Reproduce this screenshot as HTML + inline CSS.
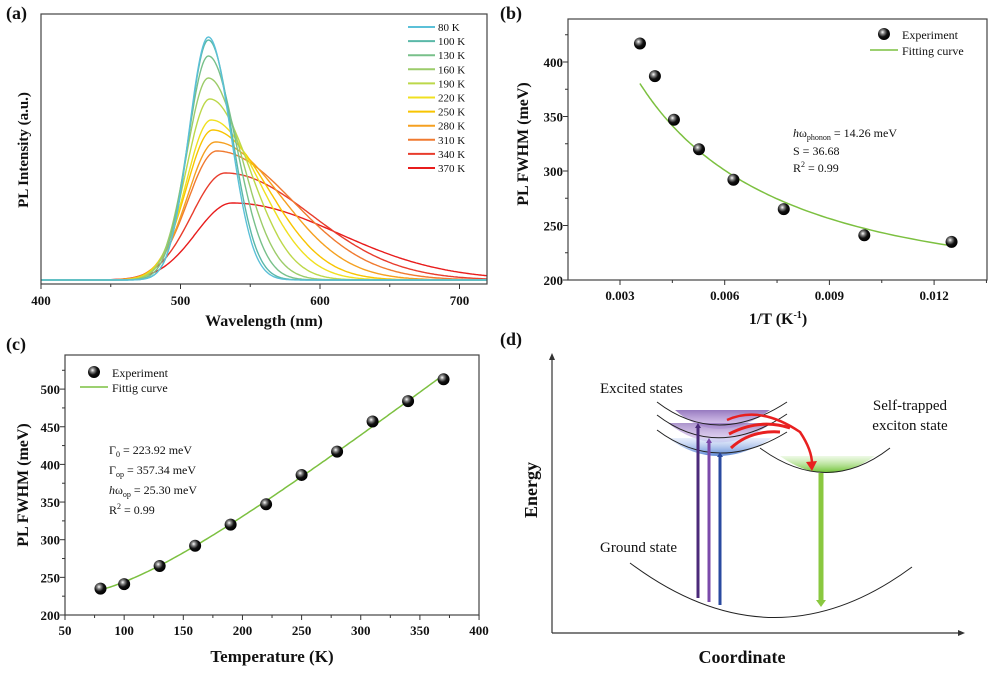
<!DOCTYPE html>
<html><head><meta charset="utf-8"><style>
html,body{margin:0;padding:0;background:#fff;}
svg{display:block;font-family:"Liberation Serif",serif;}
</style></head><body>
<svg id="s" width="1000" height="675" viewBox="0 0 1000 675" xmlns="http://www.w3.org/2000/svg">
<defs>
<radialGradient id="ball" cx="0.38" cy="0.35" r="0.65">
<stop offset="0" stop-color="#fff"/><stop offset="0.25" stop-color="#888"/><stop offset="0.6" stop-color="#111"/><stop offset="1" stop-color="#000"/></radialGradient>
<linearGradient id="purp" x1="0" y1="0" x2="0" y2="1"><stop offset="0" stop-color="#8a6ab8" stop-opacity="0.9"/><stop offset="1" stop-color="#c8a8e8" stop-opacity="0.5"/></linearGradient>
<linearGradient id="blu" x1="0" y1="0" x2="0" y2="1"><stop offset="0" stop-color="#c8d8f8" stop-opacity="0.4"/><stop offset="1" stop-color="#4a7ad0" stop-opacity="0.9"/></linearGradient>
<linearGradient id="grn" x1="0" y1="0" x2="0" y2="1"><stop offset="0" stop-color="#a8e080" stop-opacity="0.2"/><stop offset="1" stop-color="#6cc030" stop-opacity="1"/></linearGradient>
</defs>
<g id="g"></g>
</svg>
<script>
var out=[];
function P(s){out.push(s);}
function txt(x,y,t,o){o=o||{};P('<text x="'+x+'" y="'+y+'" font-size="'+(o.fs||13)+'" '+(o.b?'font-weight="bold" ':'')+'text-anchor="'+(o.a||'start')+'" '+(o.rot?'transform="rotate(-90 '+x+' '+y+')" ':'')+'fill="#111">'+t+'</text>');}
function line(x1,y1,x2,y2,c,w){P('<line x1="'+x1+'" y1="'+y1+'" x2="'+x2+'" y2="'+y2+'" stroke="'+(c||'#333')+'" stroke-width="'+(w||1)+'"/>');}
function ball(x,y){P('<circle cx="'+x+'" cy="'+y+'" r="6" fill="url(#ball)"/>');}
txt(6,19,'(a)',{fs:18,b:1});txt(500,19,'(b)',{fs:18,b:1});txt(6,350,'(c)',{fs:18,b:1});txt(500,345,'(d)',{fs:18,b:1});
// ===== (a)
(function(){
var L=41,R=487,T=14,B=284,base=280;
function X(w){return L+(w-400)*1.395;}
var C=[[520,243,14,16,'#5bc0d8'],[520,240,14,17,'#5ab8a8'],[520,224,15,20,'#78c08a'],[520,202,16,24,'#9ccc6a'],[521,181,17,29,'#bcd84a'],[522,160,18,35,'#f0e020'],[523,150,19,40,'#f8c400'],[525,138,20,47,'#f5a020'],[526,129,21,55,'#f07a30'],[532,107,24,62,'#e83c2c'],[537,77,26,76,'#e81c1c']];
var lab=['80 K','100 K','130 K','160 K','190 K','220 K','250 K','280 K','310 K','340 K','370 K'];
for(var i=C.length-1;i>=0;i--){var c=C[i],d='';
for(var w=400;w<=720;w+=1){var s=w<c[0]?c[2]:c[3];var y=base-c[1]*Math.exp(-Math.pow(w-c[0],2)/(2*s*s));d+=(w==400?'M':'L')+X(w).toFixed(1)+','+y.toFixed(1);}
P('<path d="'+d+'" fill="none" stroke="'+c[4]+'" stroke-width="1.4"/>');}
for(var i=0;i<11;i++){var y=27+i*14.1;line(408,y,435,y,C[i][4],2);txt(438,y+4,lab[i],{fs:11});}
P('<rect x="'+L+'" y="'+T+'" width="'+(R-L)+'" height="'+(B-T)+'" fill="none" stroke="#444" stroke-width="1.2"/>');
for(var w=400;w<=700;w+=50){var x=X(w);line(x,B,x,B+(w%100?3:5));if(w%100==0)txt(x,B+21,w,{fs:13,b:1,a:'middle'});}
txt(264,326,'Wavelength (nm)',{fs:16,b:1,a:'middle'});
txt(28,150,'PL Intensity (a.u.)',{fs:15,b:1,a:'middle',rot:1});
})();
// ===== (b)
(function(){
var L=568,R=987,T=19,B=280;
function X(v){return 620+(v-0.003)/0.003*104.7;}function Y(v){return 280-(v-200)*1.09;}
P('<rect x="'+L+'" y="'+T+'" width="'+(R-L)+'" height="'+(B-T)+'" fill="none" stroke="#444" stroke-width="1.2"/>');
for(var v=200;v<=425;v+=25){var y=Y(v);line(L,y,L-(v%50?3:5),y);if(v%50==0)txt(L-5,y+5,v,{fs:13,b:1,a:'end'});}
for(var k=1;k<=4;k++){var x=X(0.003*k);line(x,B,x,B+5);txt(x,B+20,(0.003*k).toFixed(3),{fs:13,b:1,a:'middle'});}
for(var k=0;k<4;k++){var x=X(0.0045+0.003*k);line(x,B,x,B+3);}
var d='';for(var T2=280;T2>=80;T2-=2){var a=82.74/T2;var ct=(Math.exp(2*a)+1)/(Math.exp(2*a)-1);var f=203.8*Math.sqrt(ct);d+=(T2==280?'M':'L')+X(1/T2).toFixed(1)+','+Y(f).toFixed(1);}
P('<path d="'+d+'" fill="none" stroke="#7cc040" stroke-width="1.5"/>');
var pts=[[280,417],[250,387],[220,347],[190,320],[160,292],[130,265],[100,241],[80,235]];
pts.forEach(function(p){ball(X(1/p[0]),Y(p[1]));});
ball(884,34);txt(902,39,'Experiment',{fs:12});line(870,50,898,50,'#7cc040',1.5);txt(902,55,'Fitting curve',{fs:12});
P('<text x="793" y="137" font-size="12" fill="#111"><tspan font-style="italic">h</tspan>ω<tspan font-size="8" dy="3">phonon</tspan><tspan dy="-3"> = 14.26 meV</tspan></text>');
txt(793,155,'S = 36.68',{fs:12});
P('<text x="793" y="172" font-size="12" fill="#111">R<tspan font-size="8" dy="-5">2</tspan><tspan dy="5"> = 0.99</tspan></text>');
P('<text x="778" y="324" font-size="16" font-weight="bold" text-anchor="middle" fill="#111">1/T (K<tspan font-size="10" dy="-6">-1</tspan><tspan dy="6">)</tspan></text>');
txt(528,144,'PL FWHM (meV)',{fs:16,b:1,a:'middle',rot:1});
})();
// ===== (c)
(function(){
var L=65,R=479,T=355,B=615;
function X(v){return 65+(v-50)*1.183;}function Y(v){return 615-(v-200)*0.753;}
P('<rect x="'+L+'" y="'+T+'" width="'+(R-L)+'" height="'+(B-T)+'" fill="none" stroke="#444" stroke-width="1.2"/>');
for(var v=200;v<=525;v+=25){var y=Y(v);line(L,y,L-(v%50?3:5),y);if(v%50==0)txt(L-5,y+5,v,{fs:13,b:1,a:'end'});}
for(var v=50;v<=400;v+=25){var x=X(v);line(x,B,x,B+(v%50?3:5));if(v%50==0)txt(x,B+20,v,{fs:13,b:1,a:'middle'});}
var d='';for(var t=80;t<=370;t+=2){var f=223.92+357.34/(Math.exp(25.3/(0.08617*t))-1);d+=(t==80?'M':'L')+X(t).toFixed(1)+','+Y(f).toFixed(1);}
P('<path d="'+d+'" fill="none" stroke="#7cc040" stroke-width="1.5"/>');
var T3=[80,100,130,160,190,220,250,280,310,340,370],V=[235,241,265,292,320,347,386,417,457,484,513];
for(var i=0;i<11;i++)ball(X(T3[i]),Y(V[i]));
ball(94,372);txt(112,377,'Experiment',{fs:12});line(80,387,108,387,'#7cc040',1.5);txt(112,392,'Fittig curve',{fs:12});
P('<text x="109" y="454" font-size="12" fill="#111">Γ<tspan font-size="8" dy="3">0</tspan><tspan dy="-3"> = 223.92 meV</tspan></text>');
P('<text x="109" y="474" font-size="12" fill="#111">Γ<tspan font-size="8" dy="3">op</tspan><tspan dy="-3"> =  357.34 meV</tspan></text>');
P('<text x="109" y="494" font-size="12" fill="#111"><tspan font-style="italic">h</tspan>ω<tspan font-size="8" dy="3">op</tspan><tspan dy="-3"> = 25.30 meV</tspan></text>');
P('<text x="109" y="514" font-size="12" fill="#111">R<tspan font-size="8" dy="-5">2</tspan><tspan dy="5"> = 0.99</tspan></text>');
txt(272,662,'Temperature (K)',{fs:17,b:1,a:'middle'});
txt(28,485,'PL FWHM (meV)',{fs:16,b:1,a:'middle',rot:1});
})();
// ===== (d)
(function(){
line(552,633,552,358,'#333',1.2);P('<path d="M549,360 L552,353 L555,360z" fill="#333"/>');
line(552,633,960,633,'#333',1.2);P('<path d="M958,630 L965,633 L958,636z" fill="#333"/>');
txt(742,663,'Coordinate',{fs:18,b:1,a:'middle'});
txt(537,490,'Energy',{fs:18,b:1,a:'middle',rot:1});
P('<path d="M675,410 Q717,448 770,410 Z" fill="url(#purp)"/>');
P('<path d="M668,423 Q717,462 772,423 Z" fill="url(#purp)" opacity="0.8"/>');
P('<path d="M668,438 Q717,474 772,438 Z" fill="url(#blu)"/>');
P('<path d="M780,456 Q827,490 875,456 Z" fill="url(#grn)"/>');
P('<path d="M657,402 Q717,448 787,402" fill="none" stroke="#222" stroke-width="1"/>');
P('<path d="M657,415 Q717,461 787,414" fill="none" stroke="#222" stroke-width="1"/>');
P('<path d="M657,430 Q717,475 787,432" fill="none" stroke="#222" stroke-width="1"/>');
P('<path d="M760,448 Q827,497 890,448" fill="none" stroke="#222" stroke-width="1"/>');
P('<path d="M630,563 Q773,670 912,567" fill="none" stroke="#222" stroke-width="1"/>');
[[698,598,423,'#4b2a7a'],[709,602,438,'#7b4aaa'],[720,605,452,'#2a4aa0']].forEach(function(a){
line(a[0],a[1],a[0],a[2]+4,a[3],3);P('<path d="M'+(a[0]-3)+','+(a[2]+5)+' L'+a[0]+','+a[2]+' L'+(a[0]+3)+','+(a[2]+5)+'z" fill="'+a[3]+'"/>');});
line(821,473,821,600,'#8ac840',5);P('<path d="M816,600 L821,607 L826,600z" fill="#8ac840"/>');
P('<path d="M727,420 Q760,405 800,432 Q812,450 812,464" fill="none" stroke="#e82020" stroke-width="2.5"/>');
P('<path d="M729,434 Q760,418 790,428" fill="none" stroke="#e82020" stroke-width="3"/>');
P('<path d="M731,448 Q750,430 780,432" fill="none" stroke="#e82020" stroke-width="3"/>');
P('<path d="M806,462 L812,471 L817,461z" fill="#e82020"/>');
txt(600,393,'Excited states',{fs:15});
txt(600,552,'Ground state',{fs:15});
txt(910,410,'Self-trapped',{fs:15,a:'middle'});
txt(910,430,'exciton state',{fs:15,a:'middle'});
})();
document.getElementById('g').innerHTML=out.join('');
</script>
</body></html>
